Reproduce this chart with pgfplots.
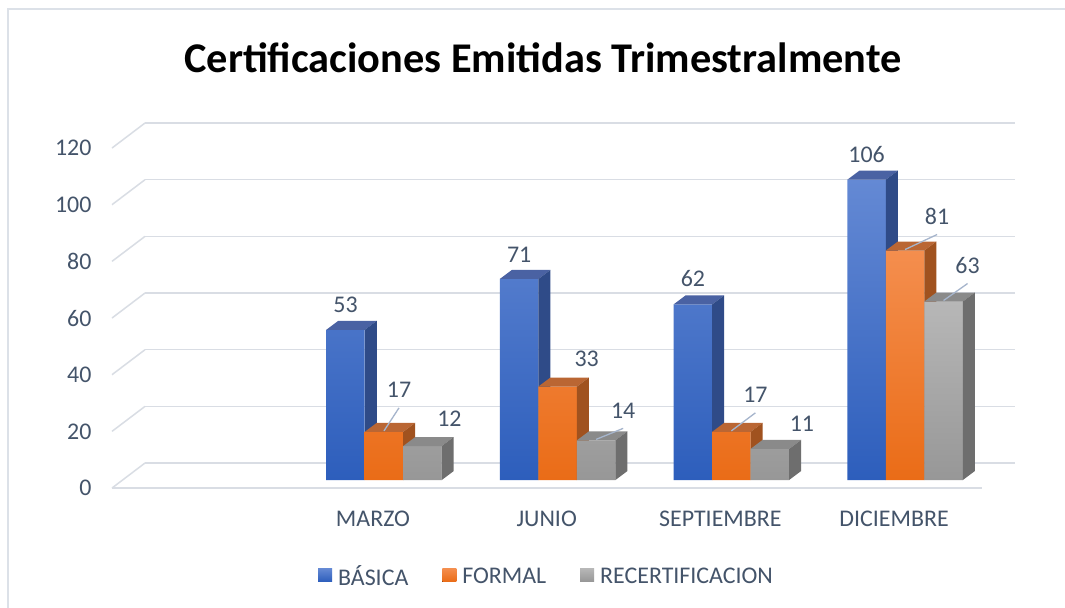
\documentclass[border=0pt]{standalone}
\usepackage{pgfplots}
\pgfplotsset{compat=1.18}
\usepackage{pgfplotstable}
\usepackage{fontspec}
\setmainfont{Carlito}

\definecolor{txt}{HTML}{44546A}
\definecolor{gridc}{HTML}{D9DDE4}
\definecolor{borderc}{HTML}{DCE1E8}
\definecolor{leadc}{HTML}{A6B5CC}
\definecolor{bT}{HTML}{6489D4}
\definecolor{bB}{HTML}{2D5EBC}
\definecolor{bTop}{HTML}{4A62A3}
\definecolor{bSide}{HTML}{2F4B88}
\definecolor{oT}{HTML}{F48E4E}
\definecolor{oB}{HTML}{EA6C17}
\definecolor{oTop}{HTML}{BA6633}
\definecolor{oSide}{HTML}{A0521F}
\definecolor{gT}{HTML}{B7B7B7}
\definecolor{gB}{HTML}{979797}
\definecolor{gTop}{HTML}{8A8A8A}
\definecolor{gSide}{HTML}{6E6E6E}

\newcommand\declface[3]{%
\pgfdeclareplotmark{#1}{%
  \pgfmathsetmacro\hh{\hv*2.83333}%
  \pgfsetfillcolor{#2}%
  \pgfpathmoveto{\pgfpoint{-19.25bp}{0bp}}%
  \pgfpathlineto{\pgfpoint{19.25bp}{0bp}}%
  \pgfpathlineto{\pgfpoint{31.25bp}{9bp}}%
  \pgfpathlineto{\pgfpoint{-7.25bp}{9bp}}%
  \pgfpathclose\pgfusepath{fill}%
  \pgfsetfillcolor{#3}%
  \pgfpathmoveto{\pgfpoint{19.25bp}{0bp}}%
  \pgfpathlineto{\pgfpoint{31.25bp}{9bp}}%
  \pgfpathlineto{\pgfpoint{31.25bp}{9bp-\hh bp}}%
  \pgfpathlineto{\pgfpoint{19.25bp}{-\hh bp}}%
  \pgfpathclose\pgfusepath{fill}%
  \ifdim\ldf pt>0.5pt\relax
    \pgfsetstrokecolor{leadc}\pgfsetlinewidth{1.3bp}%
    \pgfpathmoveto{\pgfpoint{0bp}{1bp}}%
    \pgfpathlineto{\pgfpoint{\ldx bp}{\ldy bp-18bp}}%
    \pgfusepath{stroke}%
  \fi
}}
\declface{faceB}{bTop}{bSide}
\declface{faceO}{oTop}{oSide}
\declface{faceG}{gTop}{gSide}

\pgfplotstableread{
x v dx dy lead
1 53 0 25 0
2 71 0 24 0
3 62 0 26 0
4 106 0 25 0
}\basica
\pgfplotstableread{
x v dx dy lead
1 17 15 42 1
2 33 29 28 0
3 17 24 37 1
4 81 32 34 1
}\formal
\pgfplotstableread{
x v dx dy lead
1 12 27 27 0
2 14 27 30 1
3 11 32 25 0
4 63 24 36 1
}\recert

\pgfplotsset{
  faces/.style={forget plot, scatter, only marks, point meta=explicit,
    visualization depends on={\thisrow{v}\as\hv},
    visualization depends on={\thisrow{dx}\as\ldx},
    visualization depends on={\thisrow{dy}\as\ldy},
    visualization depends on={\thisrow{lead}\as\ldf},
    nodes near coords,
    every node near coord/.append style={anchor=center, xshift=\ldx bp, yshift=\ldy bp,
      font=\fontsize{24}{28}\selectfont, text=txt}},
  sqlegend/.style={legend image code/.code={\fill[##1,draw=none] (0bp,-5.5bp) rectangle (14bp,7.5bp); \path (0bp,0bp) -- (18bp,0bp);}}
}

\begin{document}
\begin{tikzpicture}
\useasboundingbox (0,0) rectangle (1065bp,608bp);
\fill[white] (0,0) rectangle (1065bp,608bp);
\draw[borderc, line width=1.3bp] (8bp,0bp) -- (8bp,599bp) -- (1065bp,599bp);
\begin{axis}[
  at={(145bp,105.3bp)}, anchor=south west, scale only axis,
  width=870bp, height=391bp,
  xmin=-0.376, xmax=4.633, ymin=-8, ymax=130,
  clip=false, clip marker paths=true,
  /pgf/number format/assume math mode=true,
  axis line style={draw=none}, major tick length=0pt,
  xtick={1,2,3,4}, xticklabels={MARZO,JUNIO,SEPTIEMBRE,DICIEMBRE},
  ytick={6,26,46,66,86,106,126}, yticklabels={0,20,40,60,80,100,120},
  ymajorgrids, grid style={gridc, line width=1.5bp},
  ticklabel style={font=\fontsize{24}{28}\selectfont, text=txt},
  yticklabel style={xshift=-50bp, yshift=-25bp},
  xticklabel style={xshift=-11bp, yshift=-5bp},
  legend columns=3,
  legend style={at={(rel axis cs:0.4615,-0.1875)}, anchor=center, draw=none, fill=none,
    font=\fontsize{24}{28}\selectfont, text=txt,
    /tikz/every even column/.append style={column sep=32bp}},
]
\pgfplotsinvokeforeach{6,26,46,66,86,106,126}{
  \draw[gridc, line width=1.5bp] (axis cs:-0.376,#1) -- ++(-33bp,-25bp);
}
\draw[gridc, line width=1.5bp] (axis cs:-0.376,6) ++(-33bp,-25bp) -- ++(870bp,0bp);

\addplot[ybar, bar width=38.5bp, bar shift=-38.5bp, draw=none, top color=bT, bottom color=bB, sqlegend] table[x=x,y=v]{\basica};
\addlegendentry{BÁSICA}
\addplot[faces, mark=faceB] table[x expr=\thisrow{x}-0.2216, y=v, meta=v]{\basica};
\addplot[ybar, bar width=38.5bp, bar shift=0bp, draw=none, top color=oT, bottom color=oB, sqlegend] table[x=x,y=v]{\formal};
\addlegendentry{FORMAL}
\addplot[faces, mark=faceO] table[x=x, y=v, meta=v]{\formal};
\addplot[ybar, bar width=38.5bp, bar shift=38.5bp, draw=none, top color=gT, bottom color=gB, sqlegend] table[x=x,y=v]{\recert};
\addlegendentry{RECERTIFICACION}
\addplot[faces, mark=faceG] table[x expr=\thisrow{x}+0.2216, y=v, meta=v]{\recert};
\end{axis}
\node[font=\bfseries\fontsize{42.5}{50}\selectfont, text=black] at (543bp,550bp) {Certificaciones Emitidas Trimestralmente};
\end{tikzpicture}
\end{document}
